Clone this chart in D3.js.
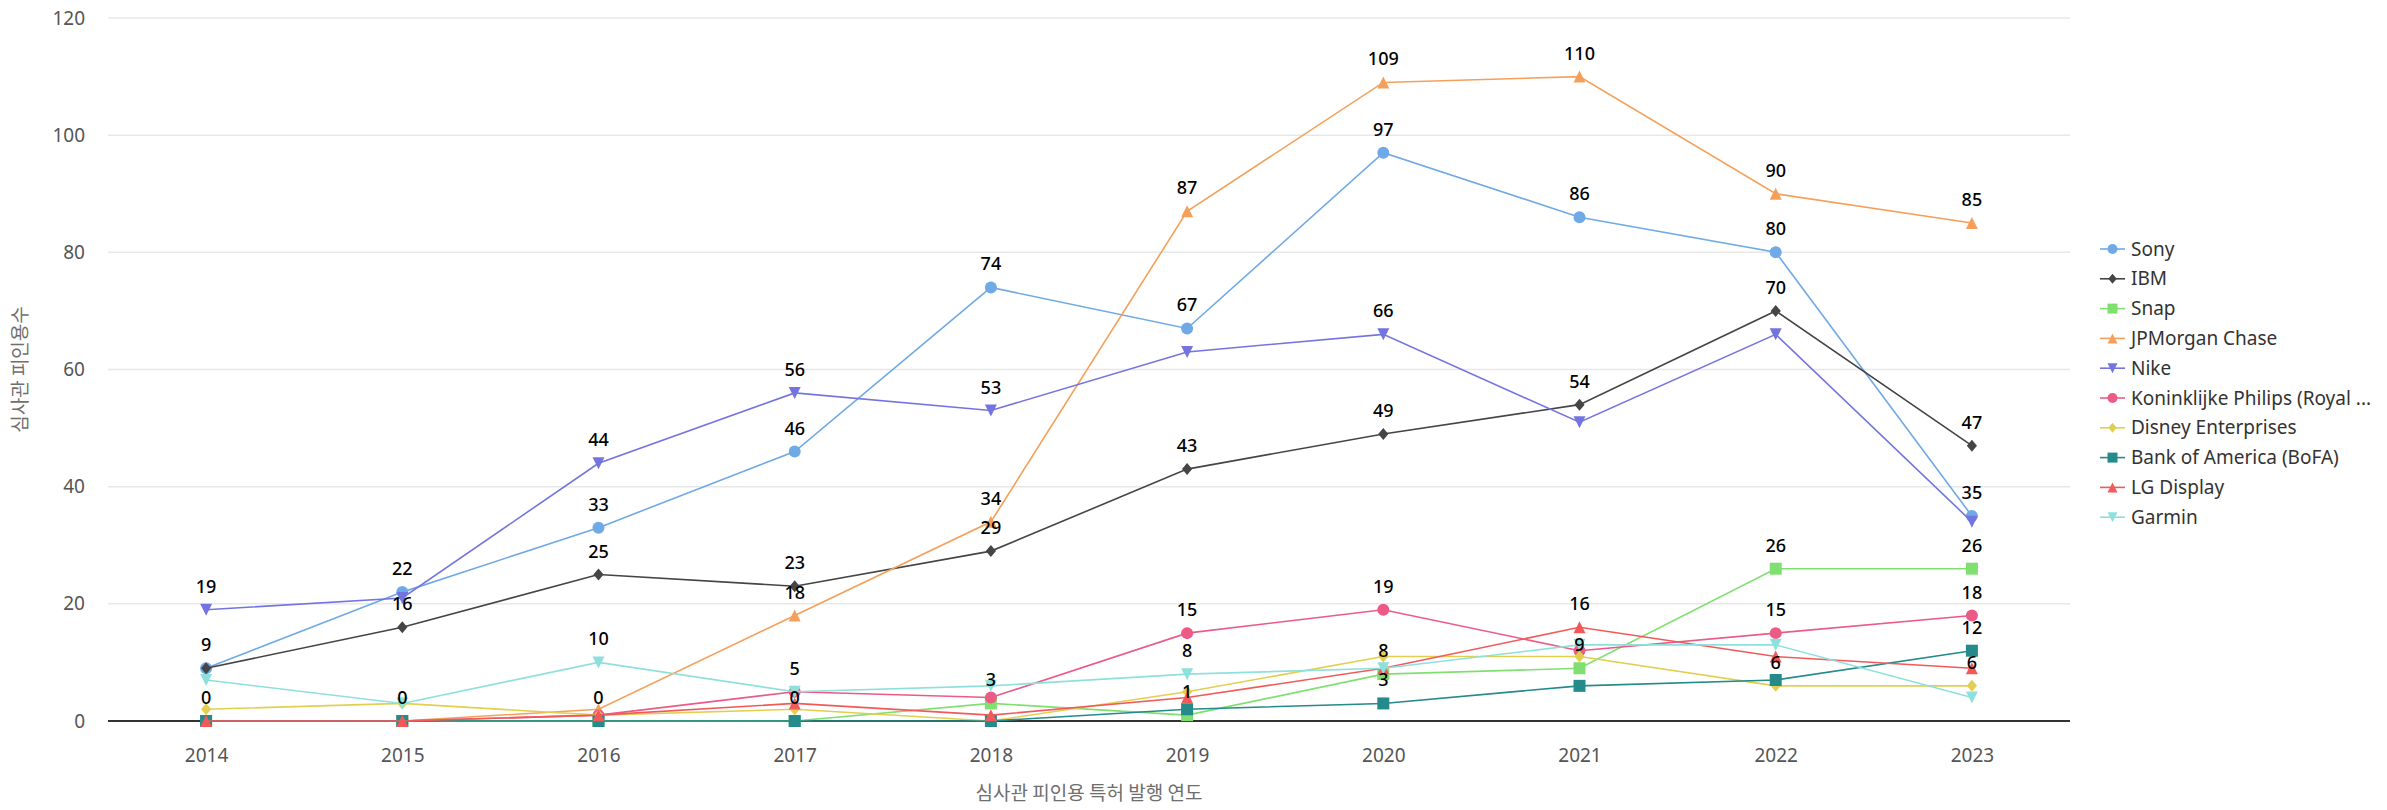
<!DOCTYPE html>
<html>
<head>
<meta charset="utf-8">
<script src="https://cdn.jsdelivr.net/npm/d3@7"></script>
<style>
  html, body { margin: 0; padding: 0; background: #ffffff; }
  svg { display: block; }
</style>
</head>
<body>
<svg id="chart" width="2387" height="810"></svg>
<script>
// ---------------- data ----------------
const years = ["2014", "2015", "2016", "2017", "2018", "2019", "2020", "2021", "2022", "2023"];
const seriesNames = ["Sony", "IBM", "Snap", "JPMorgan Chase", "Nike", "Koninklijke Philips (Royal Philips)", "Disney Enterprises", "Bank of America (BoFA)", "LG Display", "Garmin"];
const sony    = [9, 22, 33, 46, 74, 67, 97, 86, 80, 35];
const ibm     = [9, 16, 25, 23, 29, 43, 49, 54, 70, 47];
const snap    = [0, 0, 0, 0, 3, 1, 8, 9, 26, 26];
const jpm     = [0, 0, 2, 18, 34, 87, 109, 110, 90, 85];
const nike    = [19, 21, 44, 56, 53, 63, 66, 51, 66, 34];
const philips = [0, 0, 1, 5, 4, 15, 19, 12, 15, 18];
const disney  = [2, 3, 1, 2, 0, 5, 11, 11, 6, 6];
const bofa    = [0, 0, 0, 0, 0, 2, 3, 6, 7, 12];
const lg      = [0, 0, 1, 3, 1, 4, 9, 16, 11, 9];
const garmin  = [7, 3, 10, 5, 6, 8, 9, 13, 13, 4];
const yTicks  = [0, 20, 40, 60, 80, 100, 120];
const xTitle = "심사관 피인용 특허 발행 연도";
const yTitle = "심사관 피인용수";

// ---------------- styles ----------------
const colors  = ["#6fa9e6", "#454545", "#7fe070", "#f5a05a", "#7474e0", "#ec5a86", "#e2cf50", "#248a8a", "#f25a5a", "#8ee0dc"];
const symbols = ["circle", "diamond", "square", "triangle", "triangleDown", "circle", "diamond", "square", "triangle", "triangleDown"];
const allValues = [sony, ibm, snap, jpm, nike, philips, disney, bofa, lg, garmin];

const series = seriesNames.map((name, i) => ({
  name, values: allValues[i], color: colors[i], symbol: symbols[i]
}));

const W = 2387, H = 810;
const plot = { left: 108, right: 2070, top: 18, bottom: 721 };

const svg = d3.select("#chart");
const x = d3.scalePoint().domain(years).range([plot.left, plot.right]).padding(0.5);
const y = d3.scaleLinear().domain([0, 120]).range([plot.bottom, plot.top]);

const baseFont = "'Noto Sans', 'Noto Sans CJK KR', sans-serif";
const krFont = "'Noto Sans CJK KR', 'Noto Sans', sans-serif";

function symbolPath(type, s) {
  const h = s / 2;
  switch (type) {
    case "circle":
      return `M${-h},0A${h},${h} 0 1,0 ${h},0A${h},${h} 0 1,0 ${-h},0Z`;
    case "square":
      return `M${-h},${-h}H${h}V${h}H${-h}Z`;
    case "diamond":
      return `M0,${-h}L${h * 0.85},0L0,${h}L${-h * 0.85},0Z`;
    case "triangle":
      return `M0,${-h}L${h},${h}L${-h},${h}Z`;
    case "triangleDown":
      return `M0,${h}L${h},${-h}L${-h},${-h}Z`;
  }
}

// ---------------- grid + y axis ----------------
const yAxis = d3.axisLeft(y).tickValues(yTicks).tickSize(0).tickPadding(23);
const yG = svg.append("g").attr("transform", `translate(${plot.left},0)`).call(yAxis);
yG.select(".domain").remove();
yG.selectAll("text")
  .attr("font-family", baseFont).attr("font-size", 19).attr("fill", "#555");

svg.append("g").selectAll("line")
  .data(yTicks.filter(t => t !== 0))
  .join("line")
  .attr("x1", plot.left).attr("x2", plot.right)
  .attr("y1", d => y(d)).attr("y2", d => y(d))
  .attr("stroke", "#e8e8e8").attr("stroke-width", 1.5);

// ---------------- x axis ----------------
const xAxis = d3.axisBottom(x).tickSize(0).tickPadding(28);
const xG = svg.append("g").attr("transform", `translate(0,${plot.bottom})`).call(xAxis);
xG.select(".domain").remove();
xG.selectAll("text")
  .attr("font-family", baseFont).attr("font-size", 19).attr("fill", "#555");
svg.append("line")
  .attr("x1", plot.left).attr("x2", plot.right)
  .attr("y1", y(0)).attr("y2", y(0))
  .attr("stroke", "#333").attr("stroke-width", 2);

// axis titles
svg.append("text")
  .attr("x", (plot.left + plot.right) / 2).attr("y", 800)
  .attr("text-anchor", "middle")
  .attr("font-family", krFont).attr("font-size", 19).attr("fill", "#6e6e6e")
  .text(xTitle);
svg.append("text")
  .attr("transform", `translate(27,${(plot.top + plot.bottom) / 2}) rotate(-90)`)
  .attr("text-anchor", "middle")
  .attr("font-family", krFont).attr("font-size", 19).attr("fill", "#6e6e6e")
  .text(yTitle);

// ---------------- lines + symbols ----------------
const line = d3.line().x((d, i) => x(years[i])).y(d => y(d));
const seriesG = svg.append("g");
series.forEach(s => {
  const g = seriesG.append("g");
  g.append("path")
    .attr("d", line(s.values))
    .attr("fill", "none").attr("stroke", s.color).attr("stroke-width", 1.6);
  g.selectAll("path.sym")
    .data(s.values)
    .join("path")
    .attr("class", "sym")
    .attr("transform", (d, i) => `translate(${x(years[i])},${y(d)})`)
    .attr("d", symbolPath(s.symbol, 12))
    .attr("fill", s.color);
});

// ---------------- data labels with overlap hiding ----------------
const placed = [];
const labelG = svg.append("g");
series.forEach(s => {
  s.values.forEach((v, i) => {
    const cx = x(years[i]);
    const base = y(v) - 17;
    const txt = String(v);
    const w = txt.length * 10.5 + 4;
    const box = { x0: cx - w / 2, x1: cx + w / 2, y0: base - 19, y1: base + 7 };
    const hit = placed.some(b => !(box.x1 <= b.x0 || box.x0 >= b.x1 || box.y1 <= b.y0 || box.y0 >= b.y1));
    if (hit) return;
    placed.push(box);
    labelG.append("text")
      .attr("x", cx).attr("y", base)
      .attr("text-anchor", "middle")
      .attr("font-family", baseFont).attr("font-size", 18).attr("font-weight", 500)
      .attr("fill", "#000")
      .text(txt);
  });
});

// ---------------- legend ----------------
const legend = svg.append("g").attr("transform", "translate(2100,249)");
const maxChars = 26;
series.forEach((s, i) => {
  const g = legend.append("g").attr("transform", `translate(0,${i * 29.8})`);
  g.append("line").attr("x1", 0).attr("x2", 25).attr("y1", 0).attr("y2", 0)
    .attr("stroke", s.color).attr("stroke-width", 1.6);
  g.append("path").attr("transform", "translate(12.5,0)")
    .attr("d", symbolPath(s.symbol, 10)).attr("fill", s.color);
  const label = s.name.length > maxChars ? s.name.slice(0, maxChars) + " ..." : s.name;
  g.append("text")
    .attr("x", 31).attr("y", 0).attr("dy", "0.35em")
    .attr("font-family", baseFont).attr("font-size", 19).attr("fill", "#333")
    .text(label);
});
</script>
</body>
</html>
